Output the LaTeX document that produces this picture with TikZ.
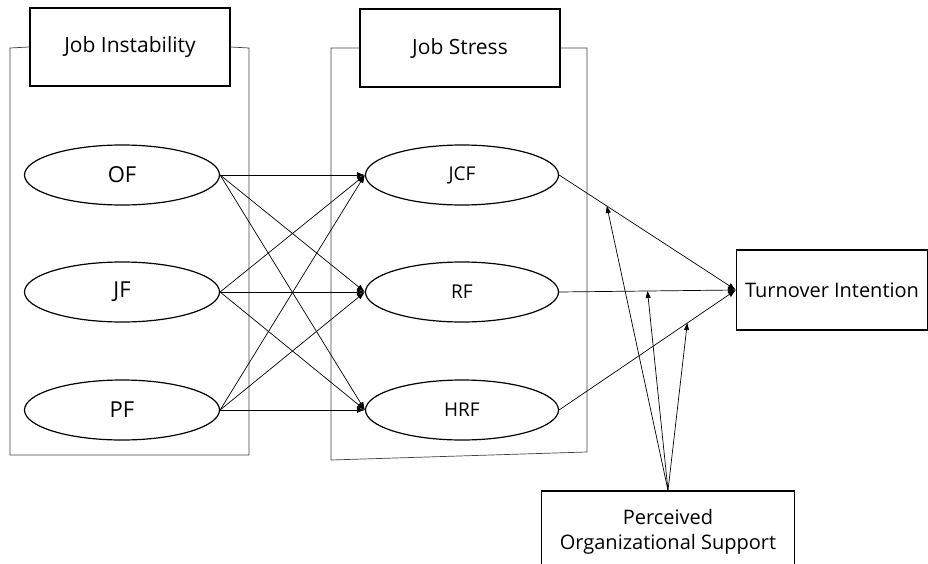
\documentclass[tikz,border=0pt]{standalone}
\usepackage{fontspec}
\setmainfont{Open Sans}
\usetikzlibrary{arrows.meta,shapes.geometric}
\begin{document}
\begin{tikzpicture}[x=1pt,y=-1pt,
  lv/.style={draw, line width=1.2pt, ellipse, minimum width=195pt, minimum height=60pt, inner sep=0pt, font=\fontsize{22}{26}\selectfont},
  titlebox/.style={draw, line width=1.2pt, minimum width=200pt, minimum height=78pt, inner sep=0pt, font=\fontsize{21}{25}\selectfont},
  grp/.style={draw, line width=0.7pt, black!75},
  arr/.style={-{Latex[length=8pt,width=6pt]}, line width=0.7pt},
  modarr/.style={-{Triangle[length=7pt,width=5pt]}, line width=0.7pt}
]
\useasboundingbox (0,0) rectangle (928,564);

% title boxes
\node[titlebox] (ji) at (130,47) {Job Instability};
\node[titlebox] (js) at (460,48) {Job Stress};

% group frames
\draw[grp] (ji.west) -- (10,48) -- (10,455) -- (249,455) -- (249,48) -- (ji.east);
\draw[grp] (js.west) -- (331,48) -- (331,460) -- (587,452) -- (587,48) -- (js.east);

% latent variables
\node[lv] (of) at (122,175) {OF};
\node[lv] (jf) at (122,292) {JF};
\node[lv] (pf) at (122,410) {PF};
\node[lv, minimum width=193pt, font=\fontsize{19}{23}\selectfont] (jcf) at (462,175) {JCF};
\node[lv, minimum width=193pt, font=\fontsize{19}{23}\selectfont] (rf) at (462,292) {RF};
\node[lv, minimum width=193pt, font=\fontsize{19}{23}\selectfont] (hrf) at (462,410) {HRF};

% outcome and moderator
\node[draw, line width=1.2pt, minimum width=191pt, minimum height=80pt, inner sep=0pt, font=\fontsize{20}{24}\selectfont] (ti) at (832,290) {Turnover Intention};
\node[draw, line width=1.2pt, minimum width=253pt, minimum height=78pt, inner sep=0pt] (pos) at (668,530) {};
\node[align=center, font=\fontsize{20}{25}\selectfont, inner sep=0pt] (postext) at (668,532) {Perceived\\Organizational Support};

% paths from job instability to job stress
\foreach \s in {of,jf,pf}{
  \foreach \t in {jcf,rf,hrf}{
    \draw[arr] (\s.east) -- (\t.west);
  }
}

% paths to turnover intention
\draw[arr] (jcf.east) -- (ti.west) coordinate[pos=0.27] (m1);
\draw[arr] (rf.east) -- (ti.west) coordinate[pos=0.5] (m2);
\draw[arr] (hrf.east) -- (ti.west) coordinate[pos=0.725] (m3);

% moderation arrows
\draw[modarr] (pos.north) -- (m1);
\draw[modarr] (pos.north) -- (m2);
\draw[modarr] (pos.north) -- (m3);
\end{tikzpicture}
\end{document}
